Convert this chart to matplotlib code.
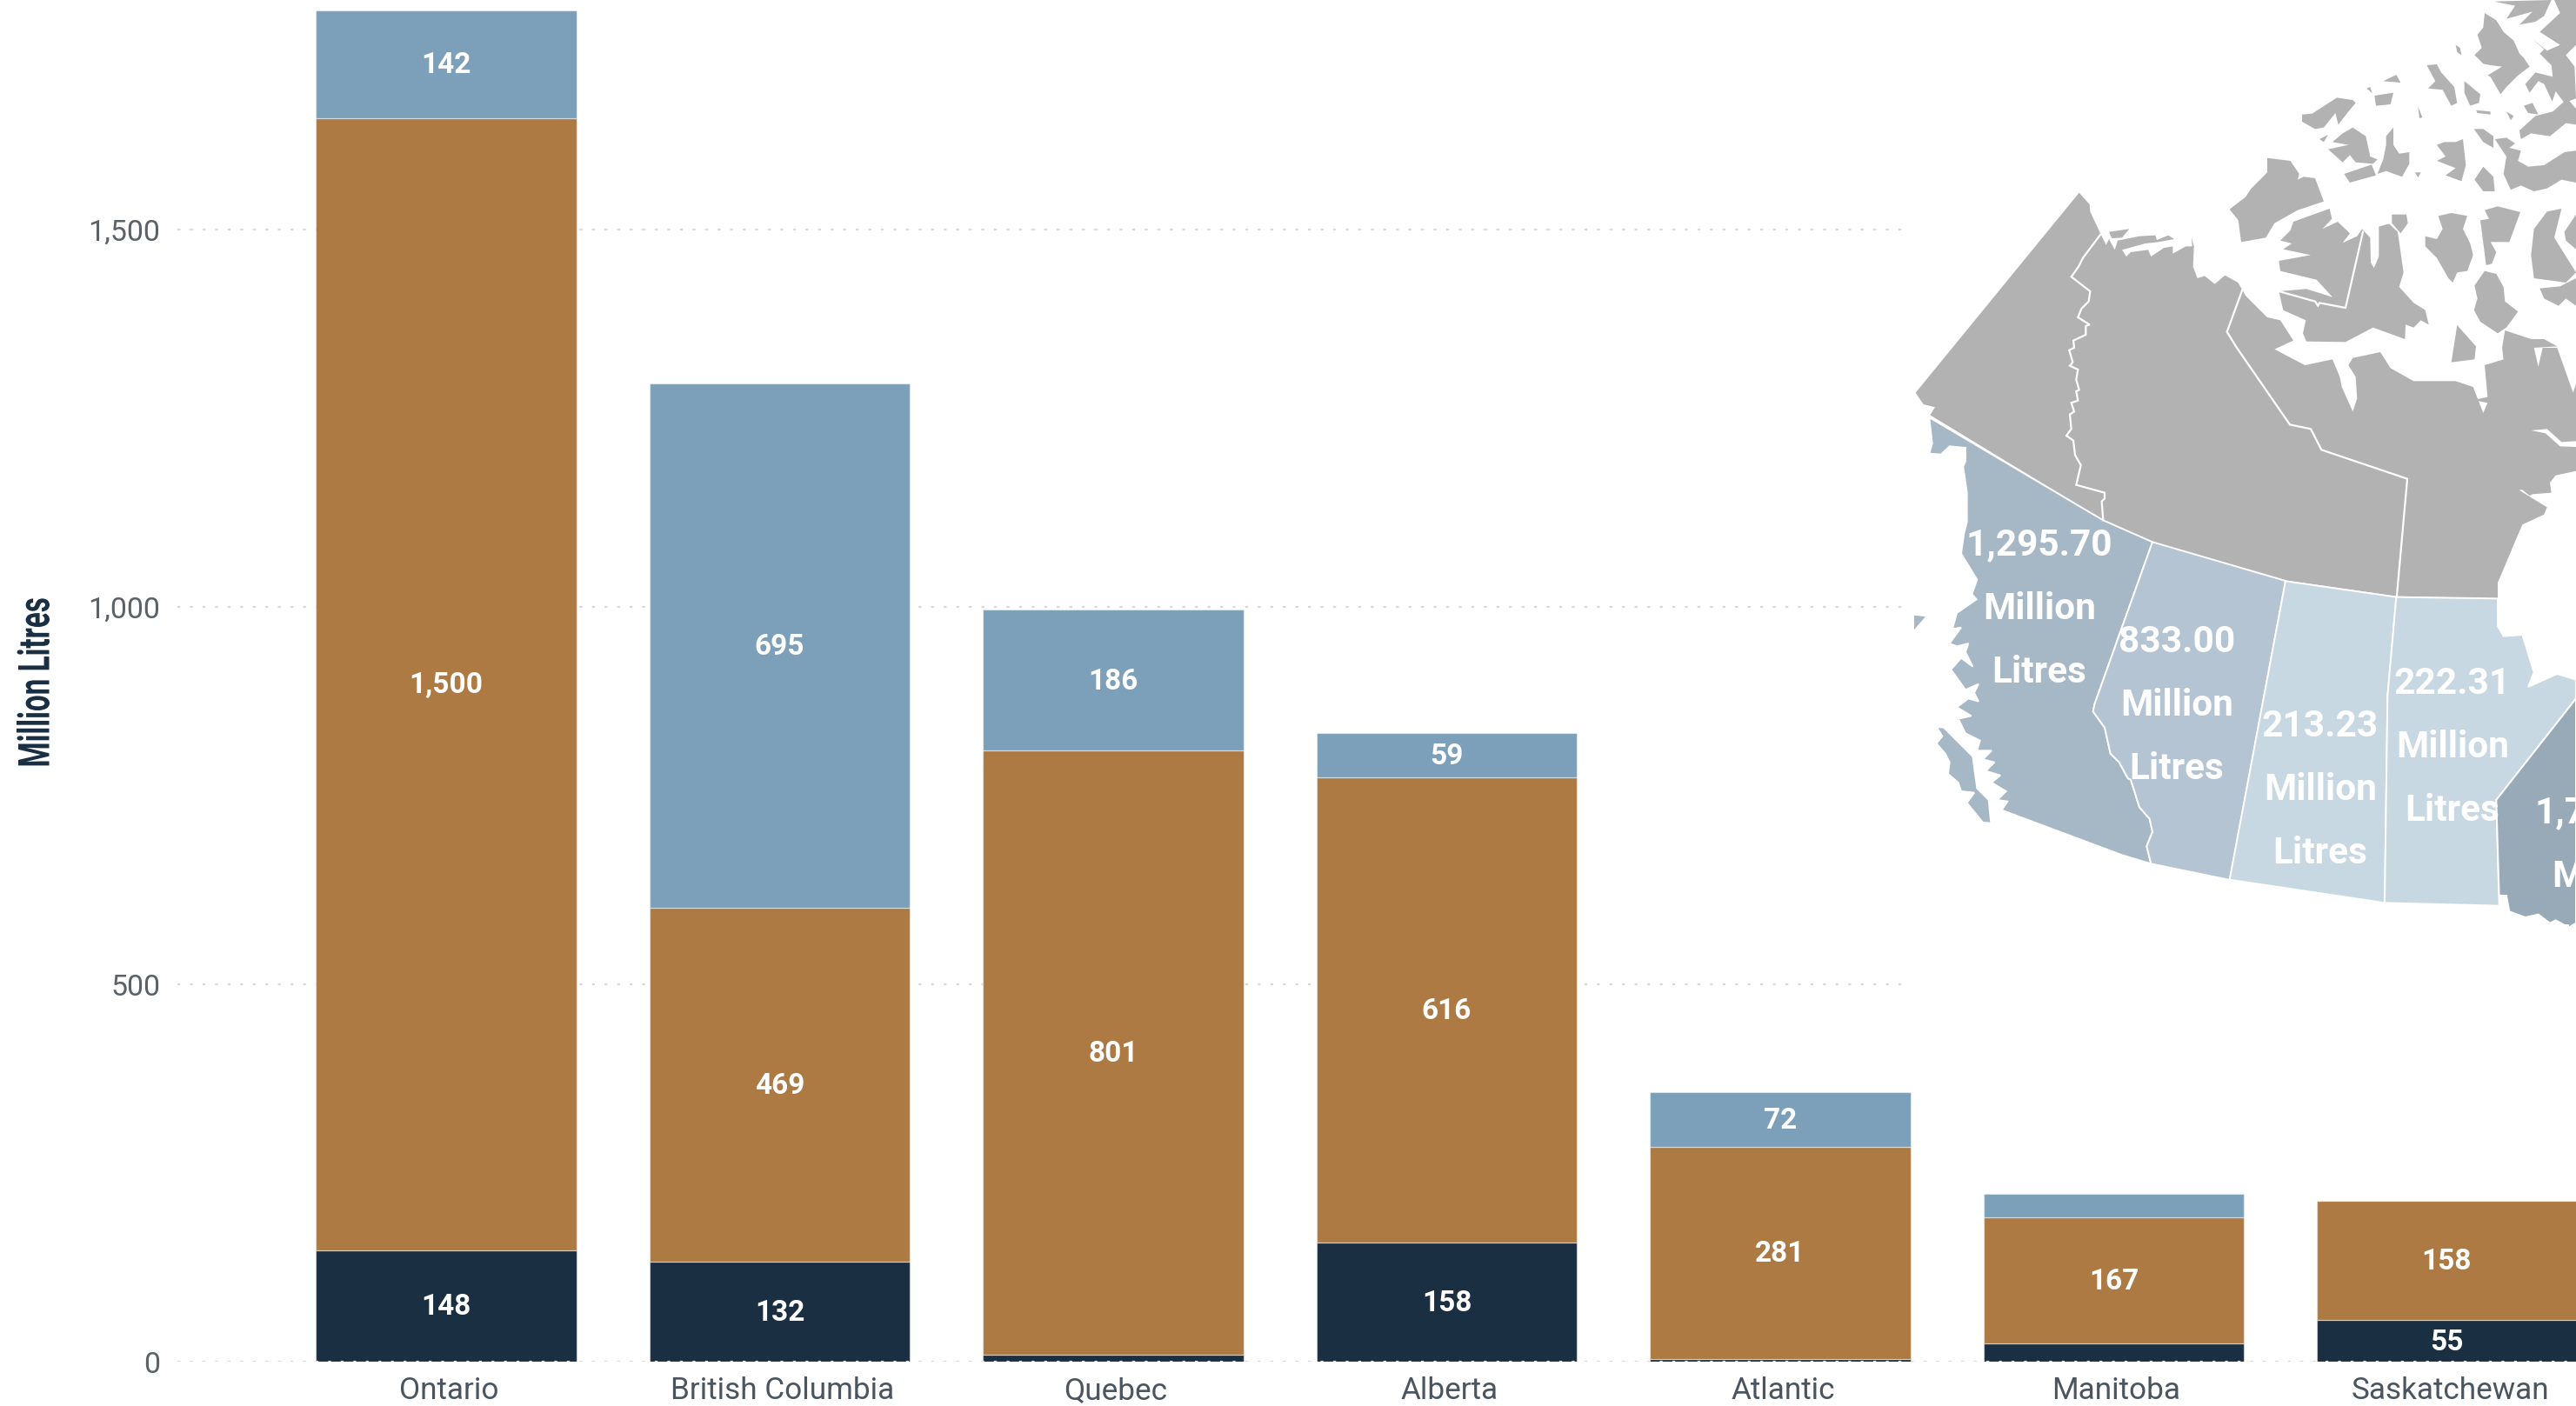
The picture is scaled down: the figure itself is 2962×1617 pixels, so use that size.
import numpy as np
import matplotlib
matplotlib.use("Agg")
import matplotlib.pyplot as plt
from matplotlib.patches import Polygon
from matplotlib.patheffects import AbstractPathEffect
from matplotlib.transforms import Affine2D, ScaledTranslation

plt.rcParams['font.family'] = ['Roboto', 'DejaVu Sans']

# valores do grafico
provinces = ["Ontario", "British Columbia", "Quebec", "Alberta", "Atlantic", "Manitoba", "Saskatchewan"]
navy_vals = [148, 132, 9, 158, 4, 24, 55]
brown_vals = [1500, 469, 801, 616, 281, 167, 158]
blue_vals = [142, 695, 186, 59, 72, 31, 0]
y_ticks = [0, 500, 1000, 1500]

# rotulos do mapa
map_labels = ["1,295.70", "833.00", "213.23", "222.31", "1,790.00"]
map_label_x = [2345, 2503, 2668, 2820, 2999]
map_label_y = [627, 738, 835, 786, 935]


def z(ox, oy, pts):
    return [(ox + a / 3, oy + b / 3) for a, b in pts]


def z4(pts):
    return z(2562, 0, pts)


def z5(pts):
    return z(2562, 400, pts)


def z6(pts):
    return z(2562, 700, pts)


def z7(pts):
    return z(2180, 200, pts)


def z8(pts):
    return z(2180, 580, pts)


# contornos do mapa
mainland = (
    z7([(118, 832), (135, 805), (95, 795), (68, 755), (632, 65), (668, 105), (670, 130), (705, 205), (725, 245),
        (735, 225), (755, 262), (765, 230), (840, 215), (895, 212), (900, 228), (940, 212), (960, 225), (905, 235),
        (860, 240), (780, 262), (795, 285), (810, 270), (870, 262), (880, 285), (925, 255), (955, 250), (955, 275),
        (1000, 250), (1022, 250), (1020, 220), (1028, 250), (1025, 320), (1040, 360), (1065, 352), (1100, 380),
        (1135, 350), (1180, 375), (1195, 400)])
    + z4([(60, 1020), (135, 1095), (180, 1105), (225, 1175)])
    + z5([(160, 5), (265, 60), (360, 40), (385, 100), (392, 135), (430, 220), (445, 175), (440, 100), (415, 60),
          (430, 35), (525, 15), (560, 70), (640, 115), (785, 115), (845, 135), (880, 225), (895, 190), (845, 180),
          (895, 170), (885, 60), (950, 40), (945, 0)])
    + z4([(955, 1140), (1045, 1170), (1090, 1170), (1135, 1195)])
    + z5([(1055, 0), (1070, 65), (1085, 0), (1135, 0), (1190, 155), (1200, 125), (1200, 425), (1130, 440), (1110, 465),
          (1115, 500), (1050, 505), (1020, 522), (1040, 510), (1015, 490), (965, 490), (955, 455), (1010, 495),
          (1100, 550), (1090, 575), (1015, 610), (985, 680), (960, 740), (930, 810), (930, 865), (580, 857),
          (195, 802), (0, 745)])
    + z8([(885, 130), (715, 55)])
)

islands = [z4(p) for p in [
    [(135, 545), (215, 555), (245, 600), (240, 620), (260, 610), (300, 615), (330, 695), (240, 725), (160, 770),
     (130, 820), (45, 835), (35, 760), (5, 722), (60, 680), (80, 650), (135, 595)],
    [(225, 765), (350, 720), (358, 755), (325, 790), (378, 765), (420, 805), (395, 838), (445, 815), (462, 790),
     (490, 820), (492, 905), (503, 925), (520, 885), (520, 782), (555, 772), (585, 800), (605, 940), (590, 990),
     (640, 1045), (680, 1070), (692, 1120), (665, 1105), (640, 1130), (612, 1120), (610, 1170), (500, 1130),
     (405, 1180), (270, 1178), (258, 1150), (268, 1105), (190, 1070), (175, 1005), (270, 997), (360, 1025), (305, 965),
     (180, 935), (175, 900), (285, 880), (190, 860), (220, 840), (180, 830), (215, 795)],
    [(850, 985), (885, 935), (925, 945), (950, 990), (955, 1040), (1000, 1075), (960, 1130), (930, 1150), (870, 1110),
     (848, 1070), (860, 1030)],
    [(1075, 995), (1145, 988), (1200, 960), (1200, 1055), (1165, 1030), (1140, 1055), (1090, 1030)],
    [(1055, 790), (1100, 730), (1150, 720), (1125, 820), (1200, 940), (1165, 975), (1055, 960), (1045, 880)],
    [(1160, 800), (1200, 740), (1200, 860), (1165, 830)],
    [(885, 45), (925, 70), (950, 110), (985, 140), (1005, 185), (1020, 200), (1040, 230), (1000, 260), (960, 300),
     (940, 325), (905, 265), (895, 260), (945, 230), (905, 225), (880, 220), (850, 190), (875, 165), (860, 120),
     (880, 95)],
    [(1125, 0), (1200, 0), (1200, 155), (1165, 190), (1195, 230), (1200, 340), (1160, 355), (1130, 315), (1118, 350),
     (1090, 290), (1070, 280), (1040, 320), (1025, 290), (1060, 250), (1120, 265), (1115, 225), (1075, 185),
     (1090, 170), (1050, 135), (1100, 175), (1145, 155), (1075, 110), (1145, 45)],
    [(918, 5), (1115, 0), (1090, 55), (1060, 75), (1005, 85), (1050, 40), (960, 65), (990, 20)],
    [(1020, 365), (1050, 355), (1070, 395), (1035, 390)],
    [(1005, 450), (1060, 400), (1120, 385), (1170, 340), (1200, 375), (1200, 430), (1165, 425), (1110, 470),
     (1045, 460), (1010, 480)],
    [(920, 480), (960, 475), (990, 495), (970, 510), (1010, 520), (1000, 555), (1035, 575), (1090, 570), (1160, 525),
     (1200, 520), (1200, 630), (1150, 620), (1100, 650), (1055, 660), (1010, 640), (975, 655), (950, 600), (960, 540)],
    [(255, 395), (290, 392), (375, 337), (430, 345), (440, 355), (415, 385), (380, 430), (370, 390), (330, 440),
     (300, 445), (255, 420)],
    [(315, 480), (345, 465), (330, 490)],
    [(345, 515), (415, 500), (360, 490), (395, 460), (430, 440), (475, 470), (490, 540), (515, 550), (500, 565),
     (440, 560), (420, 535), (395, 560)],
    [(400, 600), (495, 568), (510, 605), (420, 630)],
    [(515, 600), (535, 550), (545, 500), (545, 470), (570, 440), (570, 500), (590, 530), (625, 525), (625, 565),
     (600, 610), (545, 590)],
    [(505, 330), (570, 320), (560, 360), (510, 365)],
    [(535, 280), (580, 258), (595, 285)],
    [(478, 305), (490, 300), (497, 322)],
    [(685, 225), (720, 222), (735, 250), (780, 300), (790, 355), (770, 365), (740, 310), (690, 305), (715, 280)],
    [(815, 280), (870, 325), (865, 355), (835, 365), (815, 320)],
    [(855, 380), (905, 385), (905, 395), (860, 390)],
    [(960, 385), (985, 400), (975, 415)],
    [(848, 445), (880, 445), (915, 470), (915, 510), (880, 490)],
    [(655, 368), (670, 405), (660, 408)],
    [(785, 155), (800, 165), (805, 190), (790, 180)],
    [(745, 490), (785, 490), (810, 480), (820, 570), (805, 625), (750, 605), (785, 580), (720, 555), (750, 540),
     (720, 500)],
    [(880, 575), (915, 610), (920, 660), (880, 660), (850, 620)],
    [(645, 595), (665, 595), (655, 612)],
    [(565, 740), (615, 740), (620, 770), (595, 805), (565, 770)],
    [(725, 745), (770, 735), (825, 745), (810, 790), (835, 840), (845, 880), (825, 935), (790, 940), (775, 975),
     (760, 960), (720, 890), (680, 850), (680, 815), (720, 825), (740, 790)],
    [(885, 725), (930, 712), (1008, 732), (970, 835), (905, 835), (925, 870), (910, 910), (890, 915), (870, 760),
     (900, 755)],
    [(770, 1250), (790, 1122), (855, 1195), (850, 1240)],
]]
island_extra = [z7([(735, 200), (805, 190), (780, 220), (745, 222)])]

bay_sliver = z5([(1045, 285), (1100, 280), (1150, 325), (1200, 322), (1200, 342), (1145, 340), (1095, 295)])

yukon_line = z7([(705, 210), (645, 290), (630, 320), (605, 355), (670, 405), (665, 440), (640, 465), (628, 495),
                 (668, 520), (655, 525), (655, 555), (612, 575), (615, 600), (598, 608), (610, 650), (600, 662),
                 (628, 675), (622, 710), (632, 745), (622, 750), (628, 782), (605, 790), (615, 820), (600, 830),
                 (605, 880), (588, 903), (612, 920), (618, 970), (638, 1005), (622, 1073), (720, 1100), (720, 1120),
                 (710, 1130), (715, 1195)])
nunavut_line = z7([(1195, 400), (1142, 545)]) + z5([(30, 0), (213, 265), (285, 280), (322, 352), (618, 452), (582, 855)])
arctic_line = z4([(175, 1005), (300, 1040), (310, 1055), (315, 1045), (405, 1062), (465, 800)])

bc = (
    z7([(115, 840), (125, 930), (115, 965), (155, 968), (185, 940), (240, 945), (240, 990), (232, 1010), (245, 1100),
        (245, 1200)])
    + z8([(235, 100), (225, 170), (280, 260), (262, 310), (278, 328), (210, 375), (195, 430), (225, 425), (185, 480),
          (210, 490), (250, 480), (240, 510), (265, 560), (225, 530), (190, 570), (240, 640), (285, 620), (270, 650),
          (285, 680), (250, 670), (210, 700), (260, 730), (215, 740), (240, 790), (290, 815), (280, 850), (330, 850),
          (300, 880), (340, 890), (310, 920), (360, 935), (330, 960), (380, 990), (350, 1020), (385, 1025), (365, 1055),
          (780, 1210), (880, 1240), (865, 1180), (885, 1130), (875, 1085), (840, 1045), (810, 950), (800, 945),
          (770, 890), (740, 860), (720, 770), (680, 715), (685, 690), (885, 130), (715, 55)])
)
vancouver = z8([(140, 768), (165, 770), (265, 870), (280, 980), (320, 1020), (328, 1100), (300, 1098), (245, 1030),
                (270, 995), (225, 990), (215, 960), (180, 930), (185, 890), (170, 860), (140, 825), (160, 800)])
haida = z8([(60, 380), (108, 385), (60, 440)])
alberta = z8([(885, 130), (685, 690), (680, 715), (720, 770), (740, 860), (770, 890), (800, 945), (810, 950),
              (840, 1045), (875, 1085), (885, 1130), (865, 1180), (880, 1240), (1152, 1296), (1344, 264)])
saskatchewan = z6([(198, -95), (580, -40), (550, 300), (540, 1015), (5, 935)])
manitoba = z6([(580, -40), (930, -35), (930, 60), (950, 95), (1015, 90), (1055, 220), (1035, 270), (1135, 225),
               (1200, 245), (1200, 310), (925, 660), (935, 1025), (540, 1015), (550, 300)])
ontario = z6([(1200, 310), (925, 660), (935, 990), (960, 990), (970, 1045), (1025, 1065), (1070, 1055), (1110, 1085),
              (1130, 1075), (1175, 1100), (1200, 1085)])


class Narrow(AbstractPathEffect):
    # aperta o texto rotacionado na vertical, nao ha fonte condensada instalada
    def __init__(self, cy, k):
        super().__init__()
        self.cy = cy
        self.k = k

    def draw_path(self, renderer, gc, tpath, affine, rgbFace=None):
        t = affine + Affine2D().translate(0, -self.cy).scale(1, self.k).translate(0, self.cy)
        renderer.draw_path(gc, tpath, t, rgbFace)


W, H = 2962, 1617
fig = plt.figure(figsize=(W / 100, H / 100), dpi=100, facecolor='white')

ax = fig.add_axes([204 / W, (H - 1566) / H, (W - 204) / W, 1566 / H])
ax.set_xlim((204 - 513) / 383.5, (W - 513) / 383.5)
ax.set_ylim(0, 1566 / 0.868)

x = np.arange(len(provinces))
navy = np.array(navy_vals)
brown = np.array(brown_vals)
blue = np.array(blue_vals)
bar_w = 299.5 / 383.5

# grade pontilhada, a linha do zero passa por cima das barras
grid_kw = dict(colors='#d9d9d9', linestyles=(0, (1.5, 5)), linewidth=1.6)
ax.hlines(y_ticks[1:], x[0] - 0.806, 4.386, zorder=1, **grid_kw)
ax.hlines(y_ticks[:1], x[0] - 0.806, x[-1] + 0.4, zorder=3, **grid_kw)

edge_kw = dict(edgecolor=(1, 1, 1, 0.45), linewidth=0.9, zorder=2)
b1 = ax.bar(x, navy, bar_w, color='#1b2f43', **edge_kw)
b2 = ax.bar(x, brown, bar_w, bottom=navy, color='#ad7a43', **edge_kw)
b3 = ax.bar(x, blue, bar_w, bottom=navy + brown, color='#7ca0b9', **edge_kw)

# segmentos pequenos ficam sem rotulo
for cont, vals in [(b1, navy_vals), (b2, brown_vals), (b3, blue_vals)]:
    labs = [f"{v:,}" if v >= 50 else "" for v in vals]
    for a in ax.bar_label(cont, labels=labs, label_type='center', color='white', fontweight='bold', fontsize=24,
                          zorder=4):
        a.xyann = (0, -1)

for s in ax.spines.values():
    s.set_visible(False)
ax.set_yticks(y_ticks)
ax.set_yticklabels([f"{v:,}" for v in y_ticks], fontsize=24.5, color='#5a6168')
ax.set_xticks(x)
ax.set_xticklabels(provinces, fontsize=25.3, color='#4a5560')
ax.tick_params(axis='y', length=0, pad=14)
ax.tick_params(axis='x', length=0, pad=12.5)
for lab in ax.get_xticklabels():
    lab.set_transform(lab.get_transform() + ScaledTranslation(3 / 100, 0, fig.dpi_scale_trans))
ax.patch.set_alpha(0)

yl = fig.text(43 / W, 1 - 785 / H, "Million Litres", rotation=90, ha='center', va='center', fontsize=36,
              fontweight='bold', color='#1b2f43')
yl.set_path_effects([Narrow(H - 785, 0.665)])

# mapa por cima das barras
mp = fig.add_axes([0, 0, 1, 1])
mp.set_xlim(0, W)
mp.set_ylim(H, 0)
mp.axis('off')

mp.add_patch(Polygon(mainland, closed=True, fc='#b2b2b2', ec='none'))
for pts in islands + island_extra:
    mp.add_patch(Polygon(pts, closed=True, fc='#b2b2b2', ec='none'))
mp.add_patch(Polygon(bay_sliver, closed=True, fc='white', ec='none'))

for pts in [yukon_line, nunavut_line, arctic_line]:
    a = np.array(pts)
    mp.plot(a[:, 0], a[:, 1], color='white', lw=1.6, solid_joinstyle='miter')

for pts, col in [(bc, '#a6b7c5'), (vancouver, '#a6b7c5'), (haida, '#a6b7c5'), (alberta, '#b4c4d2'),
                 (saskatchewan, '#c8d8e3'), (manitoba, '#c8d8e3'), (ontario, '#98a9b8')]:
    mp.add_patch(Polygon(pts, closed=True, fc=col, ec='white', lw=1.4))

for name, tx, ty in zip(map_labels, map_label_x, map_label_y):
    for i, line in enumerate([name, "Million", "Litres"]):
        mp.text(tx, ty + i * 73, line, ha='center', va='center', fontsize=30.5, color='white', fontweight='bold',
                clip_on=True)

fig.savefig("out.png", dpi=100)
